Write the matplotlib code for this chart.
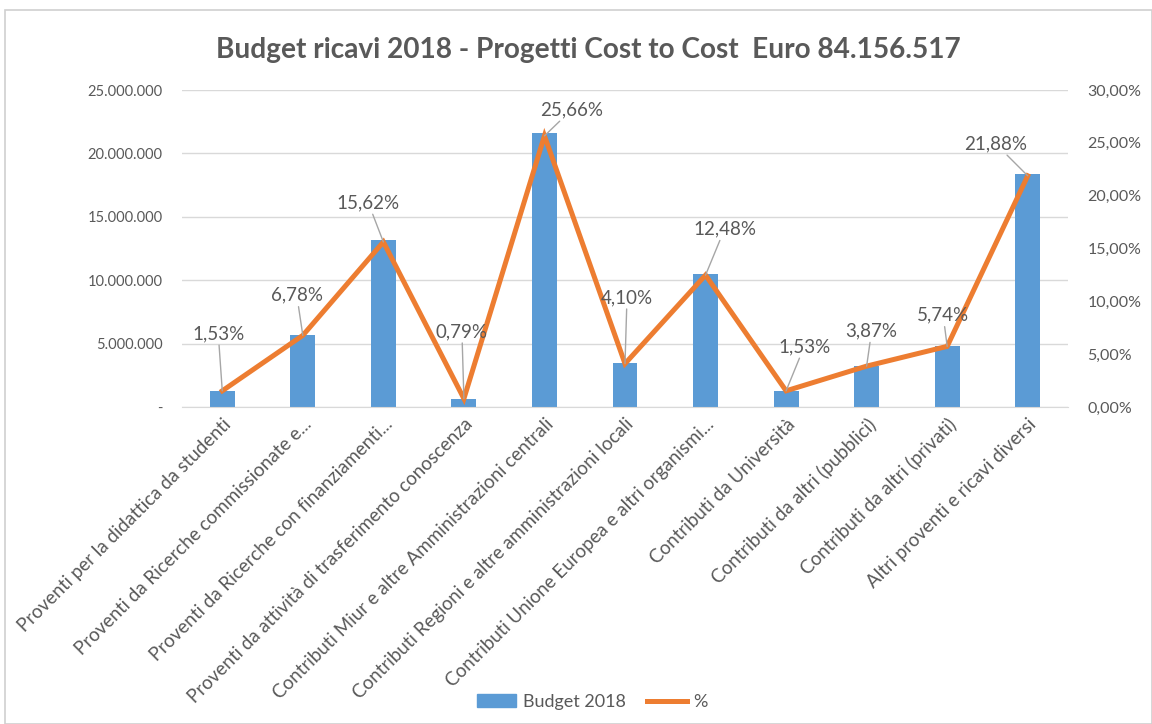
import matplotlib
matplotlib.use("Agg")
import matplotlib.pyplot as plt
from matplotlib.patches import Rectangle
from matplotlib.lines import Line2D
from matplotlib.patches import Patch
from matplotlib.ticker import FuncFormatter

plt.rcParams['font.family'] = ['Lato', 'DejaVu Sans']

title = "Budget ricavi 2018 - Progetti Cost to Cost  Euro 84.156.517"
categories = [
    "Proventi per la didattica da studenti",
    "Proventi da Ricerche commissionate e...",
    "Proventi da Ricerche con finanziamenti...",
    "Proventi da attività di trasferimento conoscenza",
    "Contributi Miur e altre Amministrazioni centrali",
    "Contributi Regioni e altre amministrazioni locali",
    "Contributi Unione Europea e altri organismi...",
    "Contributi da Università",
    "Contributi da altri (pubblici)",
    "Contributi da altri (privati)",
    "Altri proventi e ricavi diversi",
]
budget = [1290000, 5710000, 13150000, 665000, 21600000, 3450000,
          10500000, 1290000, 3260000, 4830000, 18410000]
pct = [1.53, 6.78, 15.62, 0.79, 25.66, 4.10, 12.48, 1.53, 3.87, 5.74, 21.88]
pct_labels = ["1,53%", "6,78%", "15,62%", "0,79%", "25,66%", "4,10%",
              "12,48%", "1,53%", "3,87%", "5,74%", "21,88%"]
left_ticks = [0, 5000000, 10000000, 15000000, 20000000, 25000000]
right_ticks = [0, 5, 10, 15, 20, 25, 30]
legend_labels = ["Budget 2018", "%"]

# label offsets (pixels) - styling only
label_offsets = [(-4, 57), (-6, 40), (-15, 39), (-2, 67), (27, 26), (2, 66),
                 (19, 46), (18, 44), (5, 35), (-4, 31), (-32, 32)]

BLUE = "#5B9BD5"
ORANGE = "#ED7D31"
TXT = "#595959"
GRID = "#D9D9D9"

fig = plt.figure(figsize=(11.52, 7.24), dpi=100)
fig.patches.append(Rectangle((5/1152, 0), 1 - 5/1152, 1 - 10/724, transform=fig.transFigure,
                             fill=False, ec="#D0D0D0", lw=1.2))
ax = fig.add_axes([182/1152, 1 - 407/724, (1068 - 182)/1152, (407 - 90)/724])
ax2 = ax.twinx()

x = list(range(len(categories)))
ax.bar(x, budget, width=0.31, color=BLUE, zorder=2)
ax.set_ylim(0, 25000000)
ax.set_xlim(-0.5, len(categories) - 0.5)
ax.set_yticks(left_ticks)

def lfmt(v, p):
    if v == 0:
        return "-"
    return f"{int(v):,}".replace(",", ".")
ax.yaxis.set_major_formatter(FuncFormatter(lfmt))
ax.grid(axis='y', color=GRID, lw=1, zorder=0)
ax.set_axisbelow(True)
for s in ax.spines.values():
    s.set_visible(False)
for s in ax2.spines.values():
    s.set_visible(False)
ax.spines['bottom'].set_visible(True)
ax.spines['bottom'].set_color(GRID)
ax.tick_params(axis='y', length=0, labelsize=10.5, labelcolor=TXT, pad=14)
ax.tick_params(axis='x', length=0, labelsize=13.5, labelcolor=TXT, pad=6)
ax.set_xticks(x)
ax.set_xticklabels(categories, rotation=45, ha='right', va='top', rotation_mode='anchor')

ax2.plot(x, pct, color=ORANGE, lw=3.6, zorder=3, solid_joinstyle='miter')
ax2.set_ylim(0, 30)
ax2.set_yticks(right_ticks)
ax2.yaxis.set_major_formatter(FuncFormatter(lambda v, p: f"{v:.2f}%".replace(".", ",")))
ax2.tick_params(axis='y', length=0, labelsize=11.5, labelcolor=TXT, pad=14)

for xi, yi, lab, off in zip(x, pct, pct_labels, label_offsets):
    ax2.annotate(lab, xy=(xi, yi), xytext=off, textcoords='offset pixels',
                 ha='center', va='center', fontsize=13.5, color=TXT,
                 bbox=dict(boxstyle='square,pad=0.15', fc='none', ec='none'),
                 arrowprops=dict(arrowstyle='-', color='#A6A6A6', lw=1,
                                 shrinkA=0, shrinkB=0))

fig.text(588/1152, 1 - 50/724, title, ha='center', va='center', fontsize=20.2,
         fontweight='bold', color=TXT)

handles = [Patch(color=BLUE), Line2D([0], [0], color=ORANGE, lw=3.6)]
fig.legend(handles, legend_labels, loc='center', bbox_to_anchor=(592/1152, 1 - 702/724),
           ncol=2, frameon=False, fontsize=13, labelcolor=TXT, handlelength=2.2,
           handleheight=0.7, columnspacing=1.2, handletextpad=0.35)

fig.savefig("out.png", dpi=100)
